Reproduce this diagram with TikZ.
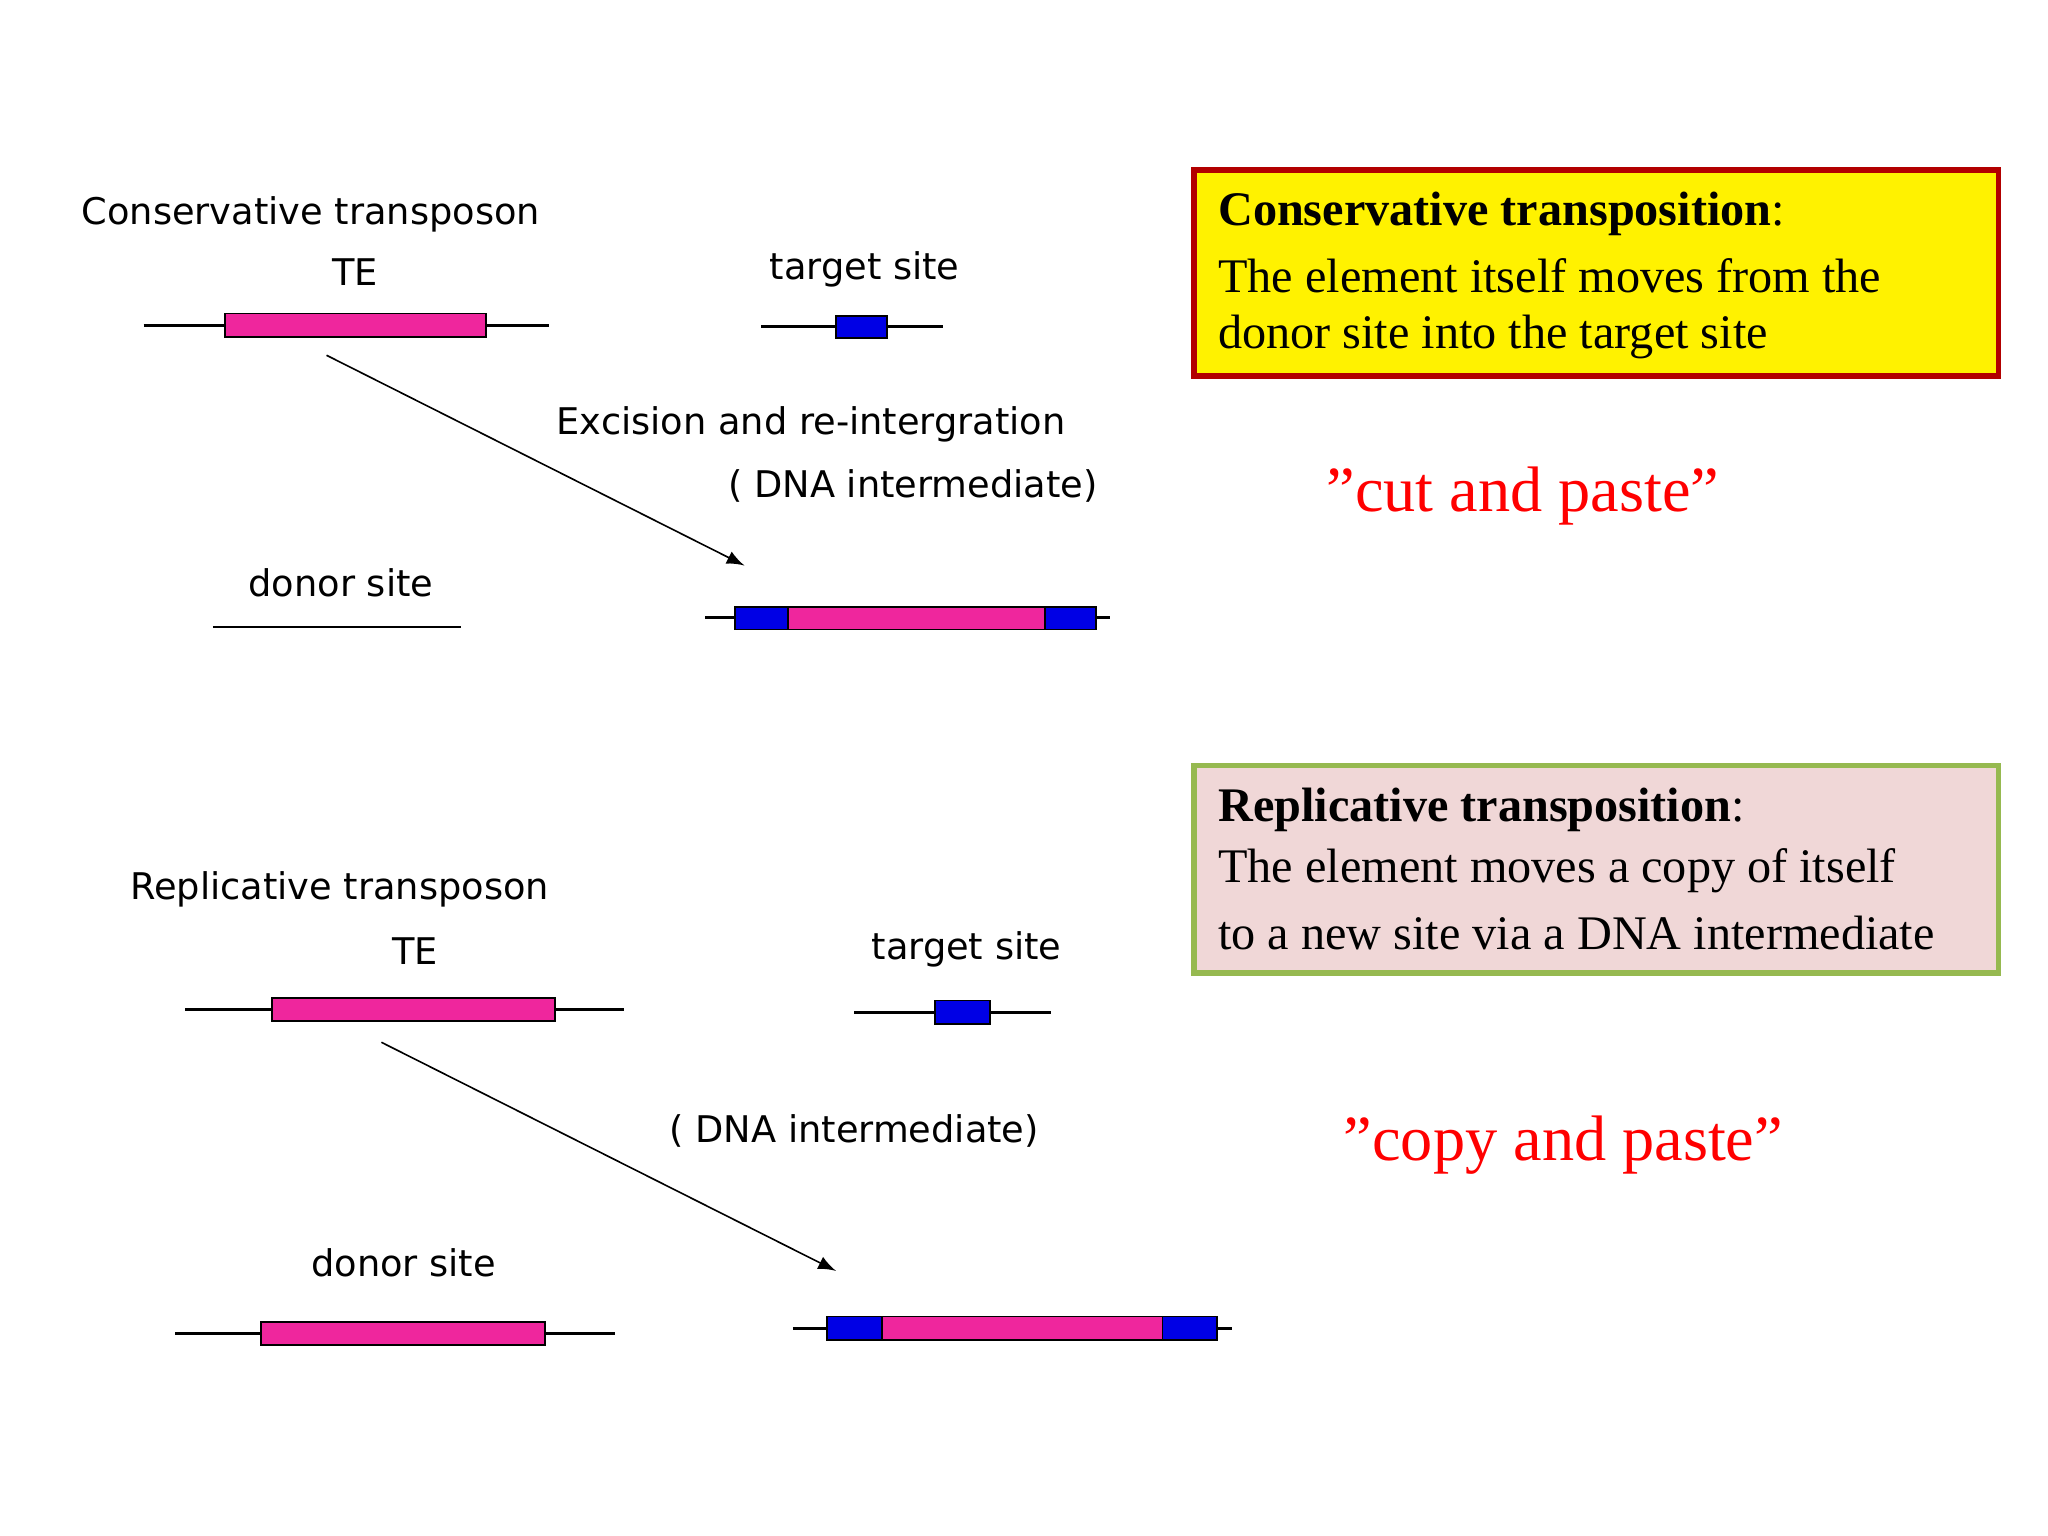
\documentclass[tikz,border=0pt]{standalone}
\usepackage{fontspec}
\setmainfont{Liberation Serif}
\newfontfamily\lab{DejaVu Sans}
\begin{document}
\begin{tikzpicture}[x=0.01cm,y=-0.01cm,
  lbl/.style={font=\lab\fontsize{8}{9}\selectfont,inner sep=0},
  dna/.style={line width=0.6pt},
  mag/.style={draw=black,line width=0.4pt,fill=magenta!85!white},
  blu/.style={draw=black,line width=0.4pt,fill=blue!90!black},
  arr/.style={line width=0.35pt,-latex},
  box/.style={line width=1.2pt},
  btxt/.style={anchor=west,font=\fontsize{10.5}{12}\selectfont,inner sep=0},
  slogan/.style={text=red,font=\fontsize{14}{16}\selectfont,inner sep=0}]
\useasboundingbox (0,0) rectangle (1568,1176);
% top
\node[lbl] (ct) at (238,164) {Conservative transposon};
\node[lbl] (te1) at (272,208) {TE};
\draw[dna] (110,249) -- (420,249);
\draw[mag] (172,240) rectangle (372,258);
\node[lbl] (ts1) at (662,206) {target site};
\draw[dna] (583,250) -- (722,250);
\draw[blu] (640,242) rectangle (679,259);
\coordinate (a1s) at (250,272); \coordinate (a1e) at (570,433);
\draw[arr] (a1s) -- (a1e);
\node[lbl] (ex) at (621,325) {Excision and re-intergration};
\node[lbl] (di1) at (699,372) {( DNA intermediate)};
\node[lbl] (ds1) at (261,446) {donor site};
\draw[dna] (163,480) -- (353,480);
\draw[dna] (540,473) -- (850,473);
\draw[mag] (563,465) rectangle (839,482);
\draw[blu] (563,465) rectangle (603,482);
\draw[blu] (800,465) rectangle (839,482);
\draw[box,draw=red!70!black,fill=yellow] (914,130) rectangle (1530,288);
\node[btxt] (y1) at (932,164) {\textbf{Conservative transposition}:};
\node[btxt] (y2) at (932,211) {The element itself moves from the};
\node[btxt] (y3) at (932,258) {donor site into the target site};
\node[slogan] (cut) at (1166,380) {"cut and paste"};
% bottom
\node[lbl] (rt) at (260,681) {Replicative transposon};
\node[lbl] (te2) at (318,728) {TE};
\draw[dna] (142,773) -- (478,773);
\draw[mag] (208,764) rectangle (425,782);
\node[lbl] (ts2) at (740,727) {target site};
\draw[dna] (654,775) -- (805,775);
\draw[blu] (716,766) rectangle (758,784);
\coordinate (a2s) at (292,798); \coordinate (a2e) at (640,973);
\draw[arr] (a2s) -- (a2e);
\node[lbl] (di2) at (654,866) {( DNA intermediate)};
\node[lbl] (ds2) at (309,967) {donor site};
\draw[dna] (134,1021) -- (471,1021);
\draw[mag] (200,1012) rectangle (417,1030);
\draw[dna] (607,1017) -- (943,1017);
\draw[mag] (633,1008) rectangle (932,1026);
\draw[blu] (633,1008) rectangle (675,1026);
\draw[blu] (890,1008) rectangle (932,1026);
\draw[box,draw={rgb,255:red,150;green,185;blue,80},fill={rgb,255:red,240;green,215;blue,215}] (914,586) rectangle (1530,745);
\node[btxt] (g1) at (932,620) {\textbf{Replicative transposition}:};
\node[btxt] (g2) at (932,667) {The element moves a copy of itself};
\node[btxt] (g3) at (932,714) {to a new site via a DNA intermediate};
\node[slogan] (copy) at (1197,877) {"copy and paste"};
\end{tikzpicture}
\end{document}
